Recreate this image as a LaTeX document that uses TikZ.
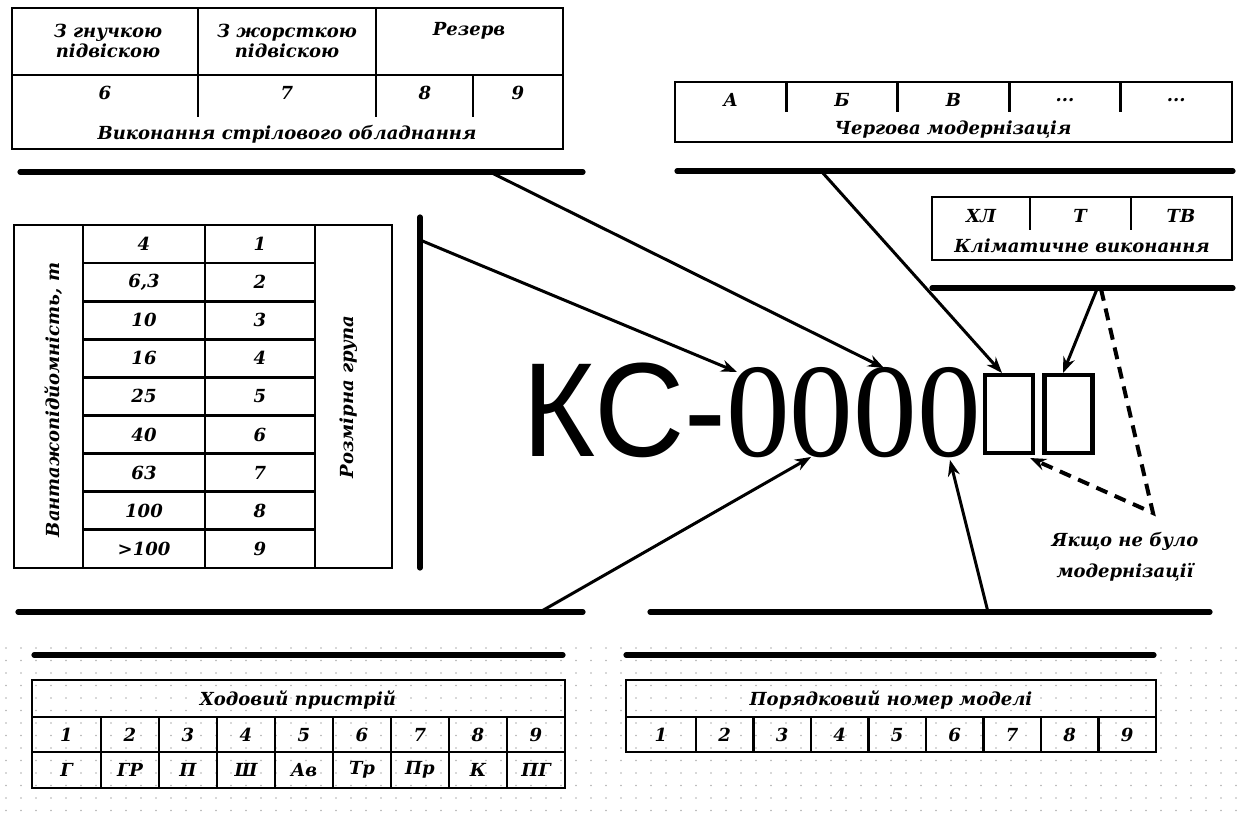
\documentclass[tikz,border=0pt]{standalone}
\usepackage{fontspec}
\usetikzlibrary{arrows.meta}
\newfontfamily\capfont{DejaVu Serif}
\newfontfamily\kcsans{Liberation Sans}
\newfontfamily\kcserif{Liberation Serif}
\newcommand\tabtext{\capfont\bfseries\itshape\fontsize{9}{10}\selectfont}

\tikzset{
  bar/.style={line width=2.6pt, line cap=round},
  frame/.style={line width=1.4pt},
  lbl/.style={font=\tabtext, inner sep=0pt},
  conn/.style={line width=1.5pt, -{Stealth[length=8pt,width=6pt]}},
  dconn/.style={line width=2pt, dash pattern=on 6pt off 4pt, -{Stealth[length=8pt,width=6pt]}},
  slot/.style={draw, line width=2.4pt, minimum width=24pt, minimum height=39pt, inner sep=0pt},
}

\begin{document}
\begin{tikzpicture}[x=0.5pt,y=-0.5pt]
\useasboundingbox (0,0) rectangle (1238,818);
\fill[white] (0,0) rectangle (1238,818);

% faint dotted paper in the lower band
\foreach \i in {0,...,82}
  \foreach \j in {0,...,13}
    \fill[black!30] (6+\i*15, 648+\j*12.5) circle[radius=0.45pt];

% ---------- boom equipment table (top left) ----------
\draw[frame] (12,8) rectangle (563,149);
\draw[frame] (12,75) -- (563,75);
\draw[frame] (198,8) -- (198,117);
\draw[frame] (376,8) -- (376,117);
\draw[frame] (473,75) -- (473,117);
\node[lbl, align=center] (tGn) at (108,41) {З гнучкою\\підвіскою};
\node[lbl, align=center] (tZh) at (287,41) {З жорсткою\\підвіскою};
\node[lbl] (tRez) at (469,31) {Резерв};
\node[lbl] (b6) at (105,93) {6};
\node[lbl] (b7) at (287,93) {7};
\node[lbl] (b8) at (425,93) {8};
\node[lbl] (b9) at (518,93) {9};
\node[lbl] (bCap) at (287,134) {Виконання стрілового обладнання};
\draw[bar] (20,172) coordinate (barA0) -- (583,172) coordinate (barA1);
\coordinate (barAout) at (490,172);

% ---------- modernisation table (top right) ----------
\draw[frame] (675,82) rectangle (1232,142);
\foreach \k in {1,2,3,4}
  \draw[frame] (675+\k*111.4,82) -- (675+\k*111.4,112);
\node[lbl] (m0) at (730.7,100) {А};
\node[lbl] (m1) at (842.1,100) {Б};
\node[lbl] (m2) at (953.5,100) {В};
\node[lbl] (m3) at (1064.9,100) {...};
\node[lbl] (m4) at (1176.3,100) {...};
\node[lbl] (mCap) at (953,130) {Чергова модернізація};
\draw[bar] (677,171) coordinate (barB0) -- (1233,171) coordinate (barB1);
\coordinate (barBout) at (822,172);

% ---------- climate table ----------
\draw[frame] (932,197) rectangle (1232,260);
\draw[frame] (1030,197) -- (1030,230);
\draw[frame] (1131,197) -- (1131,230);
\node[lbl] (cHL) at (981,216) {ХЛ};
\node[lbl] (cT) at (1080,216) {Т};
\node[lbl] (cTV) at (1181,216) {ТВ};
\node[lbl] (cCap) at (1082,246) {Кліматичне виконання};
\draw[bar] (932,288) coordinate (barC0) -- (1233,288) coordinate (barC1);
\coordinate (barCout) at (1097,289);
\coordinate (barCdash) at (1101,289);

% ---------- capacity / size group table ----------
\draw[frame] (14,225) rectangle (392,568);
\foreach \xx in {83,205,315} \draw[frame] (\xx,225) -- (\xx,568);
\foreach \k in {1,2,3,4,5,6,7,8} \draw[frame] (83,225+\k*38.1) -- (315,225+\k*38.1);
\foreach \v [count=\k from 0] in {4,{6,3},10,16,25,40,63,100,>100}
  \node[lbl] (cap\k) at (144,244+\k*38.1) {\v};
\foreach \k in {1,2,3,4,5,6,7,8,9}
  \node[lbl] (grp\k) at (260,244+\k*38.1-38.1) {\k};
\node[lbl, rotate=90] (capTitle) at (54,400) {Вантажопідйомність, т};
\node[lbl, rotate=90] (grpTitle) at (349,397) {Розмірна група};
\draw[bar] (420,217) coordinate (barD0) -- (420,568) coordinate (barD1);
\coordinate (barDout) at (420,240);

% ---------- designation ----------
\node[anchor=base west, inner sep=0pt, font=\fontsize{67}{67}\selectfont] (kc) at (522,457)
  {\scalebox{0.935}[1]{\kcsans КС-}\scalebox{0.95}[1]{\kcserif 0000}};
\node[slot] (slot1) at (1009,414) {};
\node[slot] (slot2) at (1068.5,414) {};
\coordinate (z1top) at (737,372);
\coordinate (z3top) at (884,368);
\coordinate (z2bot) at (811,457);
\coordinate (z4bot) at (950,460);
\coordinate (s1top) at (1002,373);
\coordinate (s2top) at (1063,373);
\coordinate (s1bot) at (1030,458);
\coordinate (dashCorner) at (1153,513);

% ---------- bottom bars ----------
\draw[bar] (18,612) coordinate (barE0) -- (583,612) coordinate (barE1);
\draw[bar] (650,612) coordinate (barF0) -- (1210,612) coordinate (barF1);
\coordinate (barEout) at (540,612);
\coordinate (barFout) at (988,612);
\draw[bar] (34,655) -- (563,655);
\draw[bar] (626,655) -- (1154,655);

% ---------- running gear table ----------
\draw[frame] (32,680) rectangle (565,788);
\draw[frame] (32,717) -- (565,717);
\draw[frame] (32,752) -- (565,752);
\foreach \k in {0,1,2,3,4,5,6,7} \draw[frame] (101+\k*58,717) -- (101+\k*58,788);
\node[lbl] (rCap) at (298,700) {Ходовий пристрій};
\node[lbl] (rn1) at (66.5,735) {1};
\node[lbl] (rl1) at (66.5,770) {Г};
\foreach \t [count=\k from 2] in {ГР,П,Ш,Ав,Тр,Пр,К,ПГ}{
  \node[lbl] (rn\k) at (14+\k*58,735) {\k};
  \node[lbl] (rl\k) at (14+\k*58,770) {\t};
}

% ---------- model number table ----------
\draw[frame] (626,680) rectangle (1156,752);
\draw[frame] (626,717) -- (1156,717);
\foreach \k in {0,1,2,3,4,5,6,7} \draw[frame] (696+\k*57.5,717) -- (696+\k*57.5,752);
\node[lbl] (nCap) at (891,700) {Порядковий номер моделі};
\node[lbl] (nn1) at (661,735) {1};
\foreach \k in {2,3,4,5,6,7,8,9}
  \node[lbl] (nn\k) at (609.75+\k*57.5,735) {\k};

% ---------- note ----------
\node[lbl, align=center, font=\tabtext\fontsize{9}{15.5}\selectfont] (note) at (1125,557)
  {Якщо не було\\модернізації};

% ---------- connectors ----------
\draw[conn] (barDout) -- (z1top);
\draw[conn] (barAout) -- (z3top);
\draw[conn] (barBout) -- (s1top);
\draw[conn] (barCout) -- (s2top);
\draw[conn] (barEout) -- (z2bot);
\draw[conn] (barFout) -- (z4bot);
\draw[dconn] (barCdash) -- (dashCorner) -- (s1bot);
\end{tikzpicture}
\end{document}
